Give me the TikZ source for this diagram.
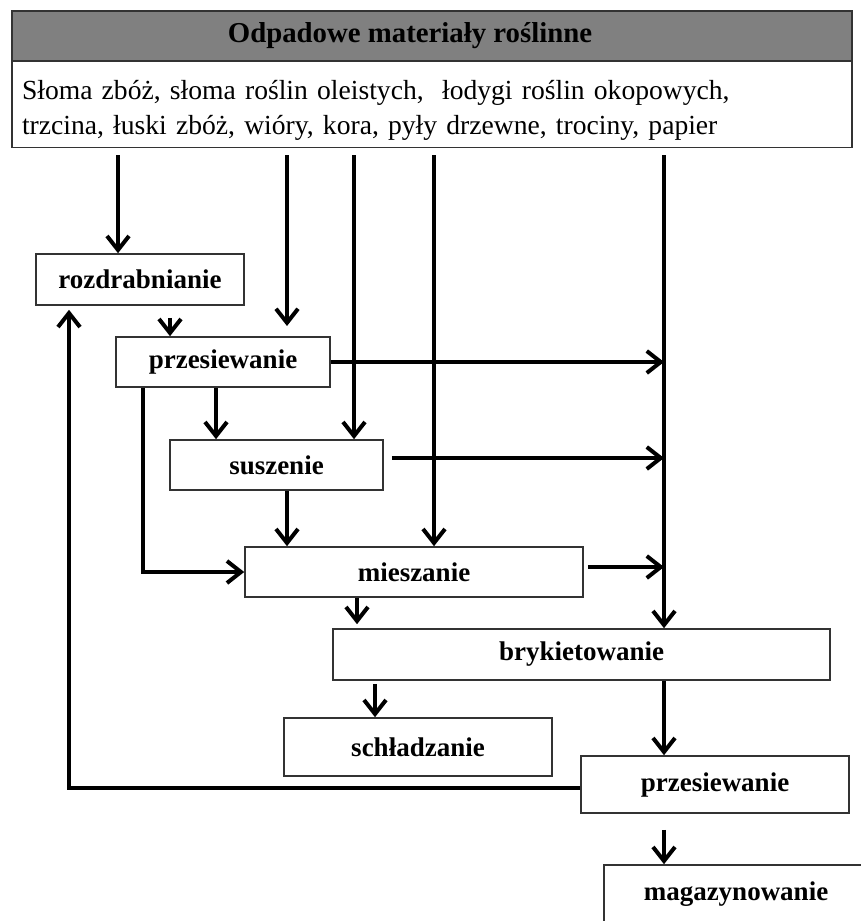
\documentclass[tikz,border=0pt]{standalone}
\usepackage{fontspec}
\setmainfont{Liberation Serif}
\usetikzlibrary{arrows.meta}
\definecolor{hdrgray}{RGB}{128,128,128}

\begin{document}
\begin{tikzpicture}[x=0.5pt,y=-0.5pt,
                every path/.style={>={Straight Barb[length=7pt,width=11pt]}},
                box/.style={draw=black!80,line width=0.8pt,fill=white,inner sep=0pt,
                  font=\fontsize{13.5}{16}\selectfont\bfseries},
                flow/.style={->,line width=2pt}]
  \useasboundingbox (0,0) rectangle (861,921);
  \clip (0,0) rectangle (861,921);
  % header
  \node[box,fill=hdrgray,minimum width=420pt,minimum height=25pt,
        font=\fontsize{14.4}{16}\selectfont\bfseries] (title) at (432,36)
        {\hspace*{-22pt}Odpadowe materiały roślinne};
  \node[box,minimum width=420pt,minimum height=43pt,text width=410pt,align=left,
        font=\fontsize{13.8}{17.5}\selectfont] (src) at (432,104.5)
        {\rule{0pt}{15pt}Słoma zbóż, słoma roślin oleistych,\ \ łodygi roślin okopowych,\\
         trzcina, łuski zbóż, wióry, kora, pyły drzewne, trociny, papier};
  % process steps
  \node[box,minimum width=104pt,minimum height=25.5pt] (rozd)   at (140,279.5) {rozdrabnianie};
  \node[box,minimum width=107pt,minimum height=25pt]   (przes1) at (223,362)   {przesiewanie};
  \node[box,minimum width=106.5pt,minimum height=25pt] (susz)   at (276.5,465) {suszenie};
  \node[box,minimum width=169pt,minimum height=25pt]   (miesz)  at (414,572)   {mieszanie};
  \node[box,minimum width=248.5pt,minimum height=25.5pt] (bryk) at (581.5,654.5) {brykietowanie};
  \node[box,minimum width=134pt,minimum height=29pt]   (schl)   at (418,747)   {schładzanie};
  \node[box,minimum width=134pt,minimum height=28.5pt] (przes2) at (715,784.5) {przesiewanie};
  \node[box,minimum width=132pt,minimum height=29pt]   (mag)    at (736,894)   {magazynowanie};
  % columns of the connectors
  \coordinate (cA) at (118,0);
  \coordinate (cB) at (287,0);
  \coordinate (cC) at (354,0);
  \coordinate (cD) at (434,0);
  \coordinate (cE) at (664,0);
  \coordinate (cF) at (170,0);
  \coordinate (cG) at (216,0);
  \coordinate (cH) at (143,0);
  \coordinate (cI) at (357,0);
  \coordinate (cJ) at (375,0);
  \coordinate (cK) at (69,0);
  \coordinate (endB) at (287,326);
  % feeds from the header
  \draw[flow,shorten <=3.5pt] (cA |- src.south) -- (cA |- rozd.north);
  \draw[flow,shorten <=3.5pt] (cB |- src.south) -- (endB);
  \draw[flow,shorten <=3.5pt] (cC |- src.south) -- (cC |- susz.north);
  \draw[flow,shorten <=3.5pt] (cD |- src.south) -- (cD |- miesz.north);
  \draw[flow,shorten <=3.5pt] (cE |- src.south) -- (cE |- bryk.north);
  % main line
  \draw[flow,shorten <=6pt] (cF |- rozd.south) -- (cF |- przes1.north);
  \draw[flow] (przes1.east) -- (przes1.east -| cE);
  \draw[flow] (cG |- przes1.south) -- (cG |- susz.north);
  \draw[flow] (cH |- przes1.south) |- (miesz.west);
  \draw[flow,shorten <=4pt] ([yshift=3.5pt]susz.east) -- ([yshift=3.5pt]susz.east -| cE);
  \draw[flow] (cB |- susz.south) -- (cB |- miesz.north);
  \draw[flow,shorten <=2pt] ([yshift=2.5pt]miesz.east) -- ([yshift=2.5pt]miesz.east -| cE);
  \draw[flow,shorten >=2pt] (cI |- miesz.south) -- (cI |- bryk.north);
  \draw[flow,shorten <=1.5pt] (cJ |- bryk.south) -- (cJ |- schl.north);
  \draw[flow] (cE |- bryk.south) -- (cE |- przes2.north);
  \draw[flow,shorten >=2pt] ([yshift=-1.5pt]przes2.west) -| (cK |- rozd.south);
  \draw[flow,shorten <=8pt] (cE |- przes2.south) -- (cE |- mag.north);
\end{tikzpicture}
\end{document}
